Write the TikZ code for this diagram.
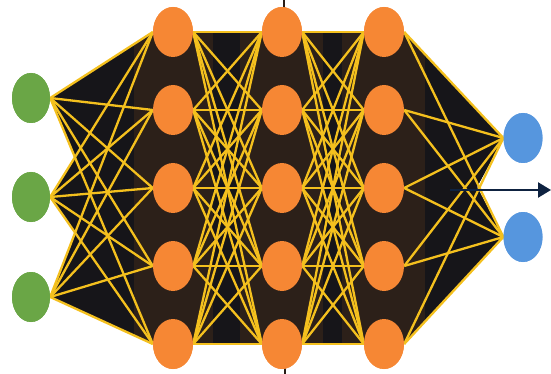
\documentclass[tikz,border=0pt]{standalone}
\usetikzlibrary{shapes.geometric,arrows.meta}
\definecolor{gin}{RGB}{106,166,70}
\definecolor{ohid}{RGB}{246,135,52}
\definecolor{bout}{RGB}{86,150,222}
\definecolor{bgbrown}{RGB}{44,32,25}
\definecolor{bgblack}{RGB}{22,21,25}
\definecolor{wire}{RGB}{244,192,30}
\definecolor{navy}{RGB}{14,34,64}
\definecolor{rod}{RGB}{40,28,22}
\tikzset{
  neuron/.style={ellipse, draw=none, inner sep=0pt, minimum width=39pt, minimum height=50pt},
  innode/.style={neuron, fill=gin, minimum width=38pt},
  hidnode/.style={neuron, fill=ohid, minimum width=40pt},
  outnode/.style={neuron, fill=bout},
  link/.style={draw=wire, line width=2.3pt},
  outarrow/.style={draw=navy, line width=2.4pt, -{Triangle[length=13pt,width=15pt]}},
}
\begin{document}
\begin{tikzpicture}[x=1pt,y=-1pt]
\useasboundingbox (0,0) rectangle (551,374);
% thin dark rod behind the middle layer
\coordinate (rt) at (284,0);
\coordinate (rb) at (285,374);
\draw[draw=rod, line width=1.8pt] (rt) -- (rb);
% nodes
\foreach \i/\y in {1/98,2/197,3/297} \node[innode] (g\i) at (31,\y) {};
\foreach \l/\x in {1/173,2/282,3/384}
  \foreach \i/\y in {1/32,2/110,3/188,4/266,5/344}
    \node[hidnode] (o\l\i) at (\x,\y) {};
\foreach \i/\y in {1/138,2/237} \node[outnode] (b\i) at (523,\y) {};
% notches
\coordinate (nl1) at (75,157);
\coordinate (nl2) at (75,232);
\coordinate (nr) at (477,187);
% background
\path[fill=bgbrown] (g1.east) -- (o11.west) -- (o31.east) -- (b1.west) -- (nr) -- (b2.west)
  -- (o35.east) -- (o15.west) -- (g3.east) -- (nl2) -- (g2.east) -- (nl1) -- cycle;
\begin{scope}
\clip (g1.east) -- (o11.west) -- (o31.east) -- (b1.west) -- (nr) -- (b2.west)
  -- (o35.east) -- (o15.west) -- (g3.east) -- (nl2) -- (g2.east) -- (nl1) -- cycle;
\fill[bgblack] (45,0) rectangle (134,374);
\fill[bgblack] (213,0) rectangle (240,374);
\fill[bgblack] (323,0) rectangle (342,374);
\fill[bgblack] (425,0) rectangle (505,374);
\end{scope}
% connections
\foreach \i in {1,2,3}
  \foreach \j in {1,...,5}
    \draw[link] (g\i.east) -- (o1\j.west);
\foreach \a/\b in {1/2,2/3}
  \foreach \i in {1,...,5}
    \foreach \j in {1,...,5}
      \draw[link] (o\a\i.east) -- (o\b\j.west);
\foreach \i in {1,...,5}
  \foreach \j in {1,2}
    \draw[link] (o3\i.east) -- (b\j.west);
% redraw nodes on top
\foreach \i in {1,2,3} \node[innode] at (g\i) {};
\foreach \l in {1,2,3}
  \foreach \i in {1,...,5}
    \node[hidnode] at (o\l\i) {};
\foreach \i in {1,2} \node[outnode] at (b\i) {};
% output arrow
\coordinate (as) at (450,190);
\coordinate (ae) at (551,190);
\draw[outarrow] (as) -- (ae);
\end{tikzpicture}
\end{document}
